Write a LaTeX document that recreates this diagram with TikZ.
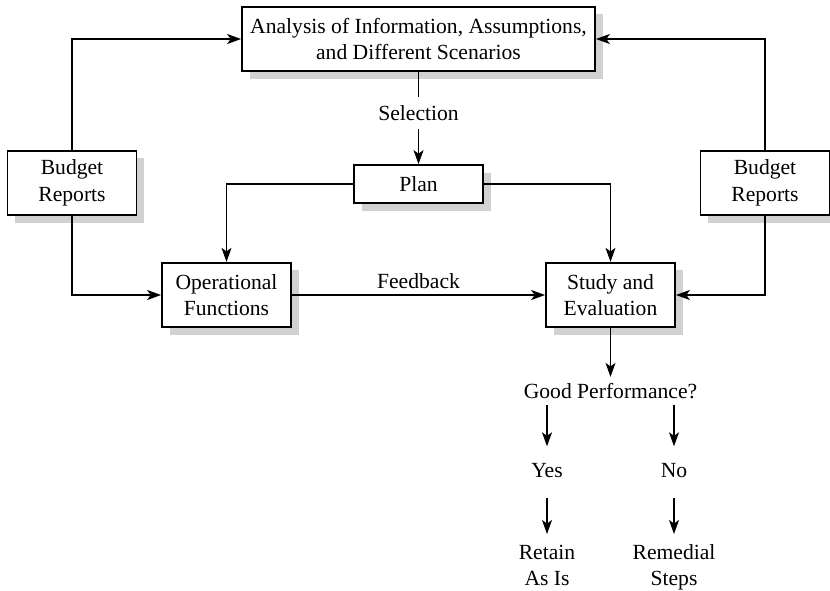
\documentclass[tikz,border=0pt]{standalone}
\usepackage{fontspec}
\setmainfont{Liberation Serif}
\usetikzlibrary{arrows.meta,shadows}
\begin{document}
\begin{tikzpicture}[x=0.5pt,y=-0.5pt]
  \tikzset{blk/.style={draw,line width=0.9pt,fill=white,align=center,inner sep=0pt,
      minimum width=\len,minimum height=\len/2,
      drop shadow={shadow xshift=3.8pt,shadow yshift=-3.8pt,fill=black!18,opacity=1}},
    lbl/.style={align=center,inner sep=3pt},
    every node/.style={font=\fontsize{10.8}{13.3}\selectfont},
    link/.style={line width=0.6pt},
    >={Stealth[length=7pt,width=5pt,inset=1.8pt]}}
  \def\len{64.5pt}
  \useasboundingbox (0,0) rectangle (830,590);
  %boxes
  \node[blk,minimum width=176.5pt] at (418.5,39) (ANA) {Analysis of Information, Assumptions,\\and Different Scenarios};
  \node[blk] at (72,183) (BRL) {Budget\\Reports};
  \node[blk] at (765,183) (BRR) {Budget\\Reports};
  \node[blk,minimum height=19pt] at (418.5,184) (PLAN) {Plan};
  \node[blk] at (226.5,295) (OPF) {Operational\\Functions};
  \node[blk] at (610.5,295) (SAE) {Study and\\Evaluation};
  %labels
  \node[lbl,inner sep=4pt] at (418.5,113) (SEL) {Selection};
  \node[lbl] at (610.5,391) (GP) {Good Performance?};
  \node[lbl,inner sep=6pt] at (547,472) (YES) {\strut Yes};
  \node[lbl,inner sep=6pt] at (674,472) (NO) {\strut No};
  \node[lbl,anchor=north] at (547,534) (RET) {\strut Retain\\As Is};
  \node[lbl,anchor=north] at (674,534) (REM) {\strut Remedial\\Steps};
  %links
  \draw[link,->] (BRL.north) |- (ANA.west);
  \draw[link,->] (BRR.north) |- (ANA.east);
  \draw[link] (ANA.south) -- (SEL.north);
  \draw[link,->] (SEL.south) -- (PLAN.north);
  \draw[link,->] (PLAN.west) -| (OPF.north);
  \draw[link,->] (PLAN.east) -| (SAE.north);
  \draw[link,->] (BRL.south) |- (OPF.west);
  \draw[link,->] (BRR.south) |- (SAE.east);
  \draw[link,->] (OPF.east) -- node[above,inner sep=3pt] (FB) {Feedback} (SAE.west);
  \draw[link,->] (SAE.south) -- (GP.north);
  %outcomes
  \draw[link,->] (GP.south -| YES.north) -- (YES.north);
  \draw[link,->] (GP.south -| NO.north) -- (NO.north);
  \draw[link,->] (YES.south) -- (RET.north);
  \draw[link,->] (NO.south) -- (REM.north);
\end{tikzpicture}
\end{document}
